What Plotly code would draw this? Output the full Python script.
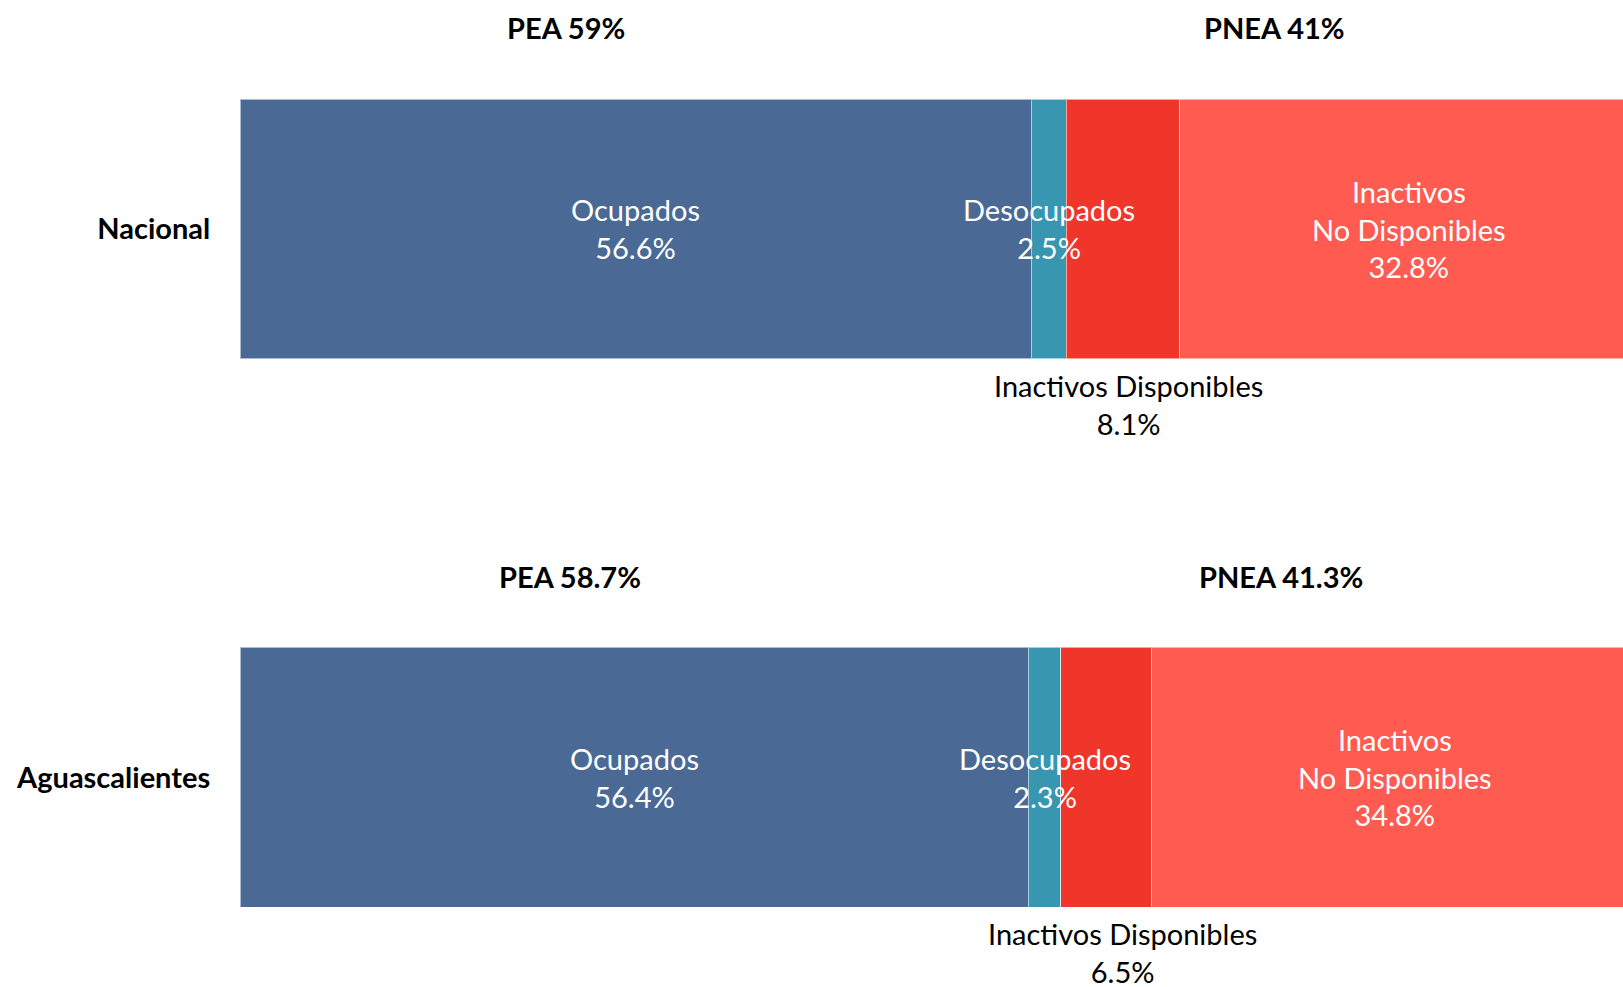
import plotly.graph_objects as go

# ---------------- data ----------------
regions = ["Nacional", "Aguascalientes"]
segments = ["Ocupados", "Desocupados", "Inactivos Disponibles", "Inactivos No Disponibles"]
ocupados = [56.6, 56.4]
desocupados = [2.5, 2.3]
inact_disp = [8.1, 6.5]
inact_no_disp = [32.8, 34.8]
pea_labels = ["PEA 59%", "PEA 58.7%"]
pnea_labels = ["PNEA 41%", "PNEA 41.3%"]

# ---------------- style ----------------
colors = ["#4A6A95", "#3896B0", "#F0352B", "#FF5B50"]
FONT = "Lato"
FS = 29
BAR_W = 0.474

series = [ocupados, desocupados, inact_disp, inact_no_disp]

fig = go.Figure()
for name, vals, col in zip(segments, series, colors):
    fig.add_trace(go.Bar(
        y=regions, x=vals, name=name, orientation="h",
        width=BAR_W,
        marker=dict(color=col, line=dict(color="rgba(255,255,255,0.55)", width=1)),
        hoverinfo="skip",
    ))

inside_names = ["Ocupados", "Desocupados", None, "Inactivos<br>No Disponibles"]
below_shift = [6, 16]
pea_x = [23.3, 23.6]
pnea_x = [74.0, 74.5]

for i, reg in enumerate(regions):
    start = 0.0
    for j, vals in enumerate(series):
        v = vals[i]
        center = start + v / 2
        if inside_names[j] is not None:
            fig.add_annotation(
                x=center, y=reg, xref="x", yref="y",
                text=f"{inside_names[j]}<br>{v:.1f}%",
                showarrow=False,
                font=dict(family=FONT, size=FS, color="white"),
                xanchor="center", yanchor="middle", align="center",
            )
        else:
            fig.add_annotation(
                x=center, y=reg, xref="x", yref="y",
                text=f"Inactivos Disponibles<br>{v:.1f}%",
                showarrow=False,
                font=dict(family=FONT, size=FS, color="black"),
                xanchor="center", yanchor="top", align="center",
                xshift=below_shift[i], yshift=-137,
            )
        start += v
    fig.add_annotation(
        x=pea_x[i], y=reg, xref="x", yref="y",
        text=f"<b>{pea_labels[i]}</b>", showarrow=False,
        font=dict(family=FONT, size=FS, color="black"),
        xanchor="center", yanchor="middle", yshift=201,
    )
    fig.add_annotation(
        x=pnea_x[i], y=reg, xref="x", yref="y",
        text=f"<b>{pnea_labels[i]}</b>", showarrow=False,
        font=dict(family=FONT, size=FS, color="black"),
        xanchor="center", yanchor="middle", yshift=201,
    )

fig.update_layout(
    barmode="stack",
    width=1623, height=987, autosize=False,
    margin=dict(l=240, r=0, t=0, b=0),
    paper_bgcolor="white", plot_bgcolor="white",
    showlegend=False,
    font=dict(family=FONT, size=FS, color="black"),
    xaxis=dict(range=[0, 98.93], visible=False, fixedrange=True),
    yaxis=dict(
        type="category",
        categoryorder="array", categoryarray=["Aguascalientes", "Nacional"],
        range=[-0.382, 1.4175],
        tickmode="array", tickvals=regions,
        ticktext=[f"<b>{r}</b>" for r in regions],
        ticks="outside", ticklen=23, tickcolor="rgba(0,0,0,0)",
        tickfont=dict(family=FONT, size=FS, color="black"),
        showgrid=False, zeroline=False, showline=False,
    ),
)

fig.write_html(
    "out.html",
    config={"displayModeBar": False},
    post_script="document.body.style.margin='0';document.body.style.overflow='hidden';",
)
